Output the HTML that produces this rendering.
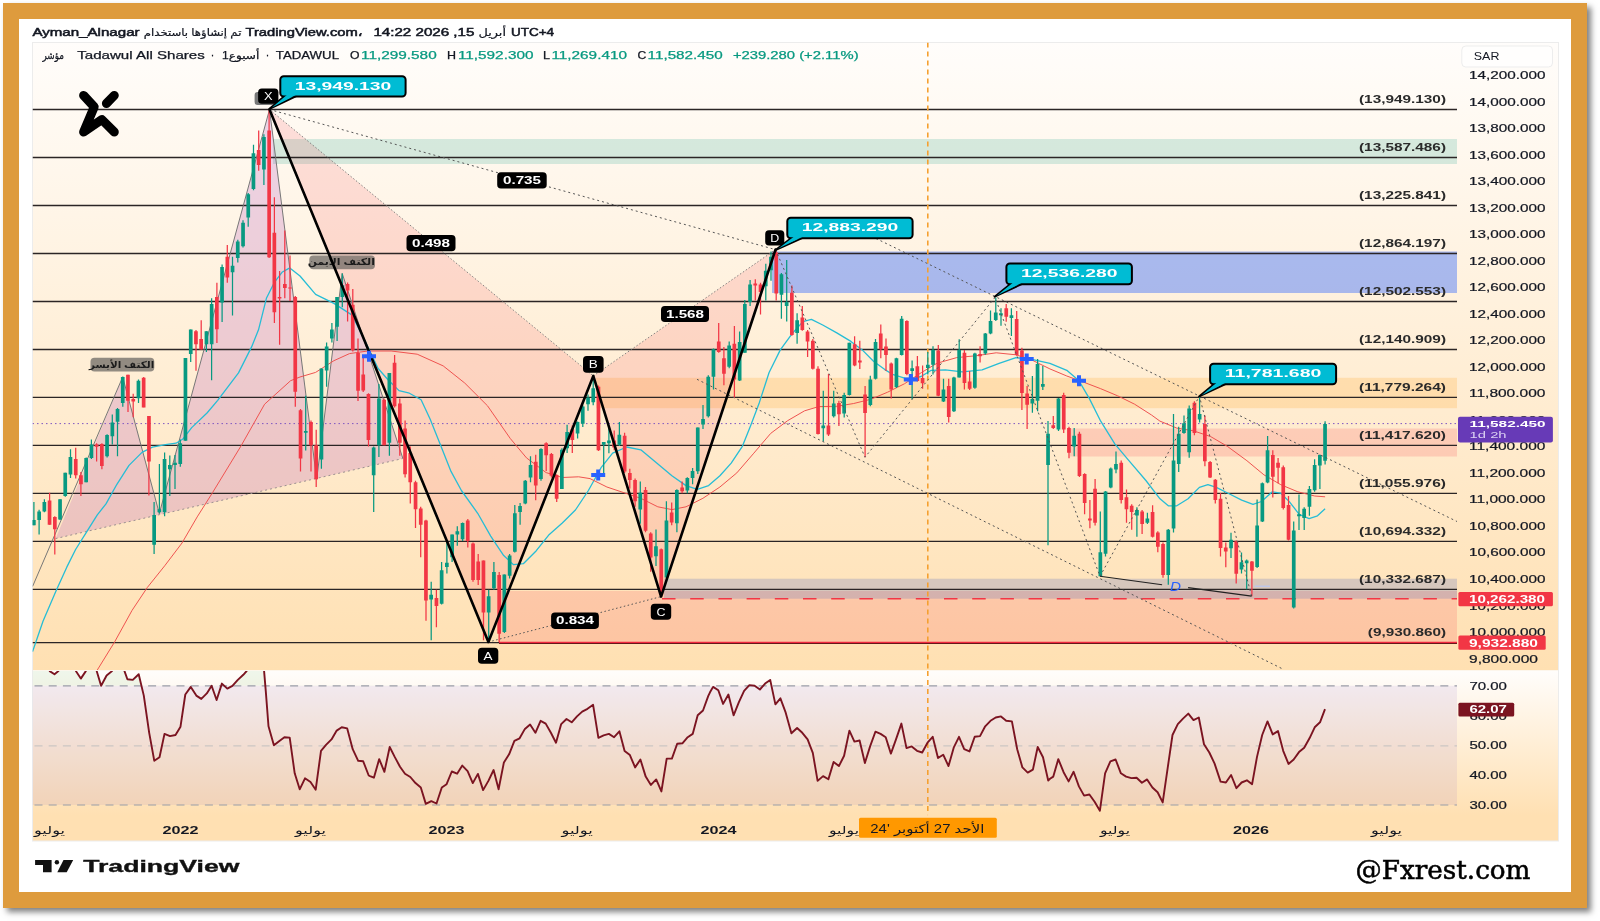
<!DOCTYPE html>
<html lang="en"><head><meta charset="utf-8"><title>Tadawul All Shares chart</title>
<style>
html,body{margin:0;padding:0;background:#fff}
body{width:1600px;height:921px;position:relative;overflow:hidden}
#frame{position:absolute;left:3px;top:3px;width:1551.85px;height:872.85px;border-style:solid;border-color:#DE9B3D;border-width:16.4px 16.25px 16.25px 16.4px;background:#fff;box-shadow:4px 4px 6px rgba(0,0,0,.5)}
</style></head><body>
<div id="frame"></div>
<svg width="1600" height="921" viewBox="0 0 1600 921" style="position:absolute;left:0;top:0;will-change:transform" font-family='"Liberation Sans", "DejaVu Sans", sans-serif'>
<defs>
<linearGradient id="gm" x1="0" y1="0" x2="0" y2="1"><stop offset="0" stop-color="#FFFDFB"/><stop offset="1" stop-color="#FFE0B2"/></linearGradient>
<linearGradient id="gr" x1="0" y1="0" x2="0" y2="1"><stop offset="0" stop-color="#FFFDFB"/><stop offset="1" stop-color="#FFE0B2"/></linearGradient>
<clipPath id="cm"><rect x="32.5" y="42.5" width="1424.5" height="627.5"/></clipPath>
<clipPath id="cr"><rect x="32.5" y="671" width="1424.5" height="144"/></clipPath>
<clipPath id="c70"><rect x="32.5" y="671" width="1424.5" height="14.8"/></clipPath>
</defs>
<rect x="32.5" y="42.5" width="1526" height="627.5" fill="url(#gm)"/>
<rect x="32.5" y="671" width="1526" height="144" fill="url(#gr)"/>
<rect x="32.5" y="815" width="1526" height="26" fill="#FFE0B2"/>
<rect x="32.5" y="670" width="1526" height="1" fill="#FDF6EC"/>
<rect x="32.5" y="42.5" width="1526" height="798.5" fill="none" stroke="#ECECEC" stroke-width="1"/>
<g clip-path="url(#cm)">
<rect x="273" y="139" width="1184" height="25" fill="#089981" fill-opacity="0.17"/>
<rect x="772" y="251.5" width="685" height="41.5" fill="#2962FF" fill-opacity="0.4"/>
<rect x="596" y="377.8" width="861" height="30.4" fill="#FF9800" fill-opacity="0.18"/>
<rect x="1070" y="428.5" width="387" height="28" fill="#F23645" fill-opacity="0.17"/>
<rect x="498" y="591" width="959" height="51.6" fill="#F23645" fill-opacity="0.16"/>
<rect x="664" y="578.7" width="793" height="20" fill="#5B6FC0" fill-opacity="0.25"/>
<polygon points="55.6,538.6 122.7,377 159.3,513.5 269.5,109.5 316.7,479.3 342.2,273.4 402.9,458.5" fill="#9C27B0" fill-opacity="0.18"/>
<polygon points="269.5,109.5 488.4,642 593.3,375.9" fill="#F23645" fill-opacity="0.14"/>
<polygon points="593.3,375.9 661.1,596.6 775.5,249.6" fill="#F23645" fill-opacity="0.14"/>
<line x1="32.5" y1="109.5" x2="1457" y2="109.5" stroke="#2B2525" stroke-width="1.3"/>
<line x1="32.5" y1="157.5" x2="1457" y2="157.5" stroke="#2B2525" stroke-width="1.3"/>
<line x1="32.5" y1="205.5" x2="1457" y2="205.5" stroke="#2B2525" stroke-width="1.3"/>
<line x1="32.5" y1="253.5" x2="1457" y2="253.5" stroke="#2B2525" stroke-width="1.3"/>
<line x1="32.5" y1="301.5" x2="1457" y2="301.5" stroke="#2B2525" stroke-width="1.3"/>
<line x1="32.5" y1="349.5" x2="1457" y2="349.5" stroke="#2B2525" stroke-width="1.3"/>
<line x1="32.5" y1="397.4" x2="1457" y2="397.4" stroke="#2B2525" stroke-width="1.3"/>
<line x1="32.5" y1="445.4" x2="1457" y2="445.4" stroke="#2B2525" stroke-width="1.3"/>
<line x1="32.5" y1="493.4" x2="1457" y2="493.4" stroke="#2B2525" stroke-width="1.3"/>
<line x1="32.5" y1="541.4" x2="1457" y2="541.4" stroke="#2B2525" stroke-width="1.3"/>
<line x1="32.5" y1="589.4" x2="1457" y2="589.4" stroke="#2B2525" stroke-width="1.3"/>
<line x1="32.5" y1="642.7" x2="1457" y2="642.7" stroke="#2B2525" stroke-width="1.3"/>
<line x1="499" y1="643.5" x2="1457" y2="643.5" stroke="#3a1010" stroke-width="1"/>
<line x1="499" y1="642.5" x2="1457" y2="642.5" stroke="#F0283E" stroke-width="1.5"/>
<line x1="662" y1="598.8" x2="1457" y2="598.8" stroke="#F23645" stroke-width="1.5" stroke-dasharray="13.5,14.7"/>
<line x1="32.5" y1="423.6" x2="1457" y2="423.6" stroke="#7E57C2" stroke-width="1" stroke-dasharray="1.5,3"/>
<line x1="927.8" y1="42.5" x2="927.8" y2="670" stroke="#F5A030" stroke-width="1.6" stroke-dasharray="5,4"/>
<polyline points="32.6,586.4 122.7,377 159.3,513.5 269.5,109.5 316.7,479.3 342.2,273.4 402.9,458.5" fill="none" stroke="#777" stroke-width="1" stroke-linejoin="round"/>
<line x1="55.6" y1="538.6" x2="402.9" y2="458.5" stroke="#9A8F8F" stroke-width="1" stroke-dasharray="2,3"/>
<polyline points="32.6,651.6 43,621.2 56.1,590.8 66.9,566.9 75.6,549.5 86.5,532.1 97.3,514.8 106,503.9 116.9,484.3 129,465.4 142,452.4 152.4,447.2 165.4,444.6 176,443.2 182.6,439.3 191.7,427.6 207,413 217.7,400.3 238.5,372.9 251.6,346.9 258.5,329.8 266.4,298.3 274.2,282.7 282,272.3 289.8,267.9 300,276 315.6,294.3 333.9,303.4 352.1,315.1 365.1,341.1 378.1,368.5 388.5,380.2 399,390.6 409.4,393.2 421.1,399.7 430.2,419.3 440.6,445.3 451,471.4 461.4,490.5 477.7,513.3 490.7,536.1 503.7,555.6 513.5,564.7 523.3,563.7 536.3,550.7 549.3,534.4 562.3,523 575.4,510 588.4,490.5 601.3,467.3 612.6,453.2 626.7,447 640.8,449.8 654.9,461.6 671.9,475.8 686,485.6 697.3,489.3 708.6,485.6 719.9,475.8 731.2,463.1 742.5,446.1 750.9,424.9 759.4,402.4 769.1,372.5 780.3,349.9 791.6,334.3 802.9,321.6 811.4,319.4 822.7,325 836.8,332.9 850.9,341.4 862.2,349.9 873.5,361.2 884.8,369.6 893.3,374.7 904.6,378.1 913,378.7 921,376.5 931.3,370.3 945.4,369.8 962.3,371.8 982.1,369.8 999.1,363.3 1016,357.6 1032.9,359.6 1049.9,363.3 1066.8,370.3 1079,380.8 1089.4,398.6 1100.7,421.2 1114.8,443.8 1128.9,460.7 1145.9,480.5 1160,498.8 1168.3,505.8 1176.8,505.8 1188.1,498.7 1199.4,487.4 1207.9,484.6 1216.3,487.4 1227.6,493 1241.7,500.1 1253,504.3 1261.5,501.5 1272.3,491.8 1280.8,493.2 1289.3,501.6 1299.2,514.3 1309.1,518.6 1317.5,515.8 1325.1,508.7" fill="none" stroke="#26BDD6" stroke-width="1.3" stroke-linejoin="round"/>
<polyline points="97.3,670 114.7,641.8 132.1,610.3 147.3,587.5 164.7,565.8 182,543 197.2,516.9 212.5,492.7 241.1,445.8 264.6,404.2 290.6,380.7 300,377 315.6,372.4 333.9,360.7 349.5,353.6 367.7,351 391.1,351 417.2,354.2 443.2,365.9 464.7,383 487.5,405.8 510.2,438.4 526.5,457.9 546.1,472.6 562.3,477.5 578.6,476.8 590,478.6 606.9,487 623.9,492.7 640.8,498.3 657.8,506.8 671.9,509.6 686,506.8 702.9,498.3 719.9,487 736.8,472.9 753.8,453.2 770.7,433.4 787.6,420.7 804.6,410.8 818.7,406.6 836.8,406.3 853.7,403.5 870.7,399.3 887.6,392.2 904.6,383.7 921.5,372.5 936.9,363.3 956.7,357.6 976.5,355.7 996.2,352.8 1016,354.8 1032.9,360.5 1049.9,368.9 1066.8,376 1083.7,382.2 1100.7,388.7 1117.6,395.8 1134.6,404.2 1151.5,415 1159.9,421.1 1176.8,428.1 1193.7,430.9 1210.7,436.6 1227.6,446.5 1246.9,460.7 1263.9,474.8 1280.8,484.7 1297.8,491.8 1314.7,496 1325.1,496.8" fill="none" stroke="#EF5350" stroke-width="1" stroke-linejoin="round"/>
<path d="M33.9,501.9V525.3M39.1,509.7V534.4M44.4,499.3V512.3M60,499.3V520.1M65.3,472.7V496.7M70.5,449.3V477.9M86.2,457.6V482.3M91.4,439.4V458.9M107.1,434.2V457.6M112.3,414.6V444.6M117.5,408.1V456.3M122.8,376.4V406.8M138.5,379.5V402.9M154.1,501.9V554M159.4,464.1V513.6M164.6,452.4V516.2M169.8,455.5V496.1M175,455V488.9M180.3,439.4V466.7M185.5,358.1V440.7M190.7,329.4V362M206.4,331.2V352.1M211.6,298.3V380.2M222.1,264.5V322M232.5,256.7V315.4M237.8,239.7V262.4M243,220.2V247.6M248.2,192.9V226.7M253.5,144.7V190.3M263.9,134.3V185M305.7,395.8V450.5M321.4,368.5V468.8M326.6,342.4V386.7M331.9,322.9V342.4M337.1,296.9V341.1M342.3,273.4V307.3M373.7,446.6V512M378.9,384.1V457M389.4,372.9V455.7M431.2,581.7V640.3M441.6,562.1V604.5M446.9,541V573.5M452.1,534.4V562.1M457.3,526.3V545.8M462.6,522.4V541M488.7,589.8V641.9M493.9,562.1V589.8M504.4,574.5V633.1M509.6,554V578.4M514.8,505.1V552.4M520.1,502.9V524.7M525.3,480.1V504.2M530.5,456.3V482.3M541,448.2V480.7M561.9,448.2V488.9M567.1,424.7V453M577.6,421.4V438.4M582.8,405.2V427M588,394.4V410.7M593.2,379.8V405.2M603.7,441.9V474.3M608.9,427.8V453.2M619.4,422.1V446.1M640.3,481.4V523.7M656,529.4V566.1M666.4,501.2V578.8M676.9,489.3V532.2M687.3,477.2V493.3M692.6,468.1V484.2M697.8,427.5V474.1M703,404.9V428.9M708.3,375.3V417.6M713.5,348.5V389.4M729.2,341.4V368.2M739.6,331.5V380.9M744.8,299.9V352.7M750.1,279.9V306.1M765.8,263.8V300.5M771,251.6V280.7M781.4,273.1V318.8M786.7,260.1V321.6M797.1,313.2V343.7M823.3,390.8V441.6M833.7,390.8V417.6M844.2,392.8V417.6M849.4,342.8V395.6M870.3,375.8V406.3M875.5,339.1V379.5M896.4,357.8V388M901.7,316V355.5M912.1,360.6V399.3M927.8,352V374.6M933,346.3V374.6M943.5,378.8V402M953.9,376.8V412.1M959.2,339.3V377.4M974.9,352.8V388.7M985.3,333.1V354.8M990.5,310.5V334.2M995.8,297.5V320.9M1001,308.2V325.7M1011.4,308.2V335.9M1032.4,376V412.7M1037.6,359.1V411.3M1042.8,366.1V390.1M1048,421.1V545.3M1058.5,397.9V430.9M1074.2,428.1V456.3M1100.3,511.4V576.3M1105.5,491.1V556.6M1110.8,467.6V488.2M1116,451.5V473.3M1136.9,507.2V536.8M1147.4,512.8V524.1M1168.3,528.9V584.8M1173.5,414V532.6M1178.7,426.7V471.9M1184,415.4V433.8M1189.2,405.5V457.8M1199.6,397.1V422.5M1231,532.7V558.1M1241.5,552.5V573.6M1246.7,559.5V589.2M1257.1,499.4V568M1262.4,482.4V522M1267.6,436.1V483.3M1293.7,521.4V608.4M1299,494.6V529.9M1304.2,507.3V529.9M1309.4,486.1V515.8M1314.6,459.3V491.8M1319.9,454.5V488.9M1325.1,421.2V464.4" stroke="#089981" stroke-width="1.25" fill="none"/>
<path d="M49.6,492.8V524.8M54.8,516.2V554.5M75.7,447.7V478.4M80.9,471.9V496.1M96.6,443.3V461.5M101.9,443.3V469.3M128,374.8V412M133.2,393.8V417.2M143.7,376.9V407.3M148.9,415.9V495.4M196,329.9V370.8M201.2,320.3V349.5M216.9,282.7V343M227.3,245V282.7M258.7,130.4V170.7M269.1,109.5V258M274.4,197.3V323M279.6,271V344.8M284.8,230.6V298.3M290,255.4V301M295.3,296V406.8M300.5,408.9V471.4M311,420.6V471.4M316.2,429.7V487M347.6,282.6V321.6M352.8,289.1V351.6M358,338.5V401M363.2,355.5V391.9M368.5,393.2V446.6M384.1,398.4V445.3M394.6,354.9V407.6M399.8,398.4V455.7M405.1,420.5V477.5M410.3,446.5V503.5M415.5,480.7V527.9M420.7,506.8V557.2M426,519.8V620.7M436.4,589.8V627.2M467.8,519.1V547.5M473,542.6V581.7M478.2,554V584.9M483.5,560.5V640.3M499.2,571.9V641.9M535.7,454.7V500.3M546.2,442.3V470.9M551.4,453V477.5M556.7,474.2V501.9M572.3,425.4V453M598.5,385.4V450.9M614.2,430.6V450.3M624.6,432.8V472.9M629.8,468.7V488.5M635.1,478.6V506.8M645.5,487V532.2M650.7,532.2V571.7M661.2,548.6V595.7M671.7,502.6V525.2M682.1,481.4V493.3M718.7,323V352.7M723.9,347V385.2M734.4,325.9V397.9M755.3,279.3V300.5M760.5,282.7V314.6M776.2,249.6V300.5M791.9,285.5V335.8M802.3,306.1V330.7M807.6,330.1V356.9M812.8,339.1V369.6M818,366.2V434.6M828.5,373.9V436M838.9,400.7V426.1M854.6,336.3V366.2M859.8,340.8V369.1M865.1,386V457.2M880.8,324.5V358.3M886,338.6V371M891.2,362.6V398.4M906.9,320.2V375.3M917.4,356.1V381.5M922.6,365.4V388.8M938.3,344.9V396.3M948.7,378.8V422.6M964.4,350V389.5M969.6,370.9V390.1M980.1,346.3V362.4M1006.2,304V321.8M1016.7,311.1V355.7M1021.9,347.8V409.9M1027.1,385.9V429.1M1053.3,416V429M1063.7,392.8V432.9M1069,426.7V458.3M1079.4,431.8V477M1084.6,473.3V514.2M1089.9,500.1V528.3M1095.1,478.9V525.5M1121.2,460.6V503.5M1126.5,489.4V522.7M1131.7,504.3V529.8M1142.1,510V534M1152.6,505.2V537.4M1157.8,531.2V552.3M1163,542.5V577.7M1194.4,401.3V435.2M1204.9,415.4V466.2M1210.1,461.1V478.1M1215.3,478.9V503.5M1220.5,493V556.6M1225.8,542.5V567.3M1236.2,540.6V583.5M1251.9,560.9V596.2M1272.8,450.3V497.4M1278.1,457.9V483.3M1283.3,465.5V509.5M1288.5,496V540.6" stroke="#F23645" stroke-width="1.25" fill="none"/>
<path d="M32,520.1h3.7v5.2h-3.7zM37.3,511.5h3.7v8.6h-3.7zM42.5,501.9h3.7v9.6h-3.7zM58.2,499.3h3.7v20.3h-3.7zM63.4,472.7h3.7v23.4h-3.7zM68.6,457.1h3.7v17.4h-3.7zM84.3,458.1h3.7v24.2h-3.7zM89.6,444.6h3.7v13.5h-3.7zM105.2,434.9h3.7v21.4h-3.7zM110.5,422.4h3.7v13.8h-3.7zM115.7,408.9h3.7v12.8h-3.7zM120.9,376.9h3.7v26h-3.7zM136.6,380.8h3.7v17.4h-3.7zM152.3,514.9h3.7v29.9h-3.7zM157.5,509.2h3.7v3.1h-3.7zM162.7,458.9h3.7v53.4h-3.7zM168,464.9h3.7v4.4h-3.7zM173.2,462.8h3.7v2.1h-3.7zM178.4,443.3h3.7v20.8h-3.7zM183.6,358.1h3.7v82.6h-3.7zM188.9,329.4h3.7v24.7h-3.7zM204.6,331.2h3.7v13h-3.7zM209.8,303.9h3.7v40.4h-3.7zM220.2,267.1h3.7v35.3h-3.7zM230.7,265.8h3.7v6.5h-3.7zM235.9,241.6h3.7v16.4h-3.7zM241.2,222.8h3.7v23.4h-3.7zM246.4,194.2h3.7v23.4h-3.7zM251.6,153.3h3.7v35.7h-3.7zM262.1,136.9h3.7v32.5h-3.7zM303.9,431h3.7v1.8h-3.7zM319.6,368.5h3.7v91.1h-3.7zM324.8,346.4h3.7v24h-3.7zM330,329.4h3.7v9.1h-3.7zM335.2,296.9h3.7v29.9h-3.7zM340.5,285.2h3.7v11.7h-3.7zM371.8,447.4h3.7v27.9h-3.7zM377.1,398.4h3.7v46.9h-3.7zM387.5,372.9h3.7v69.8h-3.7zM429.3,594.7h3.7v4.9h-3.7zM439.8,570.3h3.7v33.5h-3.7zM445,562.8h3.7v4.2h-3.7zM450.3,534.4h3.7v22.8h-3.7zM455.5,531.2h3.7v3.3h-3.7zM460.7,523h3.7v16.3h-3.7zM486.8,596.3h3.7v16.3h-3.7zM492.1,571.9h3.7v16.3h-3.7zM502.5,574.5h3.7v57.6h-3.7zM507.8,555.6h3.7v20.2h-3.7zM513,513.3h3.7v38.4h-3.7zM518.2,506.1h3.7v5.9h-3.7zM523.4,480.7h3.7v22.8h-3.7zM528.7,465.1h3.7v12.4h-3.7zM539.1,449.1h3.7v30h-3.7zM560,449.8h3.7v39.1h-3.7zM565.3,431.9h3.7v16.3h-3.7zM575.7,422.1h3.7v11.4h-3.7zM580.9,406.5h3.7v17.3h-3.7zM586.2,397.7h3.7v6.5h-3.7zM591.4,388.2h3.7v14.1h-3.7zM601.9,441.9h3.7v2.8h-3.7zM607.1,440.5h3.7v2.8h-3.7zM617.5,434.8h3.7v9.9h-3.7zM638.4,492.7h3.7v16.9h-3.7zM654.1,546.3h3.7v9.9h-3.7zM664.6,520.4h3.7v57h-3.7zM675,489.9h3.7v33.3h-3.7zM685.5,478h3.7v12.4h-3.7zM690.7,471h3.7v7.1h-3.7zM695.9,427.5h3.7v43.8h-3.7zM701.2,419h3.7v5.6h-3.7zM706.4,376.7h3.7v39.5h-3.7zM711.6,349.3h3.7v27.4h-3.7zM727.3,345.6h3.7v21.2h-3.7zM737.8,342h3.7v38.4h-3.7zM743,304.1h3.7v48.6h-3.7zM748.2,284.4h3.7v17.5h-3.7zM763.9,270.8h3.7v15.5h-3.7zM769.1,256.7h3.7v13.6h-3.7zM779.6,274.2h3.7v20.6h-3.7zM784.8,301.9h3.7v4.2h-3.7zM795.3,320.2h3.7v12.7h-3.7zM821.4,425.5h3.7v2.8h-3.7zM831.9,403.5h3.7v12.7h-3.7zM842.3,395h3.7v18.4h-3.7zM847.5,342.8h3.7v52.2h-3.7zM868.5,379.5h3.7v25.4h-3.7zM873.7,342h3.7v36.7h-3.7zM894.6,358.3h3.7v28.8h-3.7zM899.8,318.8h3.7v36.1h-3.7zM910.3,368.2h3.7v2.8h-3.7zM926,364.7h3.7v3.4h-3.7zM931.2,350h3.7v14.7h-3.7zM941.6,389.5h3.7v11.9h-3.7zM952.1,377.4h3.7v33.9h-3.7zM957.3,350h3.7v27.4h-3.7zM973,353.4h3.7v34.4h-3.7zM983.5,333.6h3.7v19.8h-3.7zM988.7,320.9h3.7v12.7h-3.7zM993.9,312.5h3.7v7.6h-3.7zM999.1,313.3h3.7v2h-3.7zM1009.6,315.3h3.7v2.8h-3.7zM1030.5,399.1h3.7v4.5h-3.7zM1035.7,364.1h3.7v36.7h-3.7zM1041,383.9h3.7v2.8h-3.7zM1046.2,433.8h3.7v31.1h-3.7zM1056.6,398.5h3.7v31.1h-3.7zM1072.3,435.7h3.7v10.7h-3.7zM1098.5,552.3h3.7v24h-3.7zM1103.7,491.6h3.7v62.1h-3.7zM1108.9,468.5h3.7v18.9h-3.7zM1114.1,464h3.7v5.6h-3.7zM1135.1,510h3.7v5.6h-3.7zM1145.5,518.5h3.7v4.2h-3.7zM1166.4,529.8h3.7v45.2h-3.7zM1171.7,460.6h3.7v67.8h-3.7zM1176.9,433.8h3.7v30.2h-3.7zM1182.1,423.3h3.7v9.6h-3.7zM1187.3,408.4h3.7v43.8h-3.7zM1197.8,414h3.7v5.6h-3.7zM1229.2,539.8h3.7v8.5h-3.7zM1239.6,562.3h3.7v7.1h-3.7zM1244.8,560.4h3.7v2.8h-3.7zM1255.3,525.6h3.7v41.5h-3.7zM1260.5,483.3h3.7v38.1h-3.7zM1265.7,450.3h3.7v32.2h-3.7zM1291.9,530.4h3.7v77.1h-3.7zM1297.1,514.3h3.7v2h-3.7zM1302.3,508.7h3.7v9.3h-3.7zM1307.6,488.9h3.7v17.8h-3.7zM1312.8,464.9h3.7v25.4h-3.7zM1318,455.1h3.7v10.4h-3.7zM1323.2,424h3.7v36.7h-3.7z" fill="#089981"/>
<path d="M47.7,500.6h3.7v24.2h-3.7zM53,517h3.7v12.2h-3.7zM73.9,458.9h3.7v16.4h-3.7zM79.1,475.3h3.7v8.9h-3.7zM94.8,444.6h3.7v2.1h-3.7zM100,444.1h3.7v21.9h-3.7zM126.1,374.8h3.7v26h-3.7zM131.4,399h3.7v2.6h-3.7zM141.8,377.7h3.7v29.7h-3.7zM147.1,415.9h3.7v45.6h-3.7zM194.1,331.2h3.7v13h-3.7zM199.3,339.1h3.7v10.4h-3.7zM215,297h3.7v32.2h-3.7zM225.5,256.7h3.7v20.8h-3.7zM256.8,149.9h3.7v15.1h-3.7zM267.3,130.4h3.7v126.8h-3.7zM272.5,232.7h3.7v79.5h-3.7zM277.7,297h3.7v1.5h-3.7zM283,284h3.7v3.9h-3.7zM288.2,287.4h3.7v1.2h-3.7zM293.4,297h3.7v94.7h-3.7zM298.7,410.2h3.7v48.2h-3.7zM309.1,421.9h3.7v23.4h-3.7zM314.3,445.3h3.7v33.9h-3.7zM345.7,283.9h3.7v6.5h-3.7zM350.9,304.7h3.7v45.6h-3.7zM356.2,352.9h3.7v37.8h-3.7zM361.4,374.5h3.7v16.1h-3.7zM366.6,394h3.7v46.1h-3.7zM382.3,399.7h3.7v45.6h-3.7zM392.7,362.8h3.7v43.5h-3.7zM398,403.6h3.7v39.1h-3.7zM403.2,428.6h3.7v45.6h-3.7zM408.4,453h3.7v29.3h-3.7zM413.7,482.3h3.7v27h-3.7zM418.9,508.4h3.7v16.3h-3.7zM424.1,520.4h3.7v80.1h-3.7zM434.6,597.9h3.7v8.1h-3.7zM465.9,520.4h3.7v20.5h-3.7zM471.2,543.6h3.7v36.5h-3.7zM476.4,561.5h3.7v18.6h-3.7zM481.6,560.5h3.7v52.1h-3.7zM497.3,575.1h3.7v58.6h-3.7zM533.9,461.8h3.7v23.8h-3.7zM544.3,443.3h3.7v12h-3.7zM549.6,454h3.7v21.8h-3.7zM554.8,474.9h3.7v23.8h-3.7zM570.5,429.3h3.7v10.7h-3.7zM596.6,386.8h3.7v63.5h-3.7zM612.3,440.5h3.7v7.1h-3.7zM622.8,435.7h3.7v35.9h-3.7zM628,472.9h3.7v7.1h-3.7zM633.2,480h3.7v21.2h-3.7zM643.7,489.9h3.7v40.9h-3.7zM648.9,533.6h3.7v24h-3.7zM659.4,549.2h3.7v45.2h-3.7zM669.8,512.5h3.7v9.9h-3.7zM680.3,487.6h3.7v3.7h-3.7zM716.9,341.4h3.7v10.7h-3.7zM722.1,358.3h3.7v15.5h-3.7zM732.5,343.7h3.7v35.9h-3.7zM753.4,283.5h3.7v2h-3.7zM758.7,284.4h3.7v7.6h-3.7zM774.4,252.5h3.7v40.9h-3.7zM790,292.8h3.7v42.3h-3.7zM800.5,317.4h3.7v12.7h-3.7zM805.7,331.5h3.7v9.9h-3.7zM811,340.8h3.7v28h-3.7zM816.2,368.8h3.7v65.2h-3.7zM826.6,425.5h3.7v9h-3.7zM837.1,402.9h3.7v11.3h-3.7zM852.8,344.2h3.7v21.2h-3.7zM858,360.6h3.7v2h-3.7zM863.2,394.5h3.7v18.4h-3.7zM878.9,333.5h3.7v15.8h-3.7zM884.1,346.5h3.7v8.5h-3.7zM889.4,363.4h3.7v26h-3.7zM905,321.1h3.7v52.8h-3.7zM915.5,366.2h3.7v14.7h-3.7zM920.7,378.1h3.7v5.1h-3.7zM936.4,350.6h3.7v45.2h-3.7zM946.9,385.9h3.7v31.1h-3.7zM962.6,352.8h3.7v30.2h-3.7zM967.8,381.6h3.7v7.1h-3.7zM978.2,354h3.7v2.3h-3.7zM1004.4,308.2h3.7v8.5h-3.7zM1014.8,319h3.7v35.9h-3.7zM1020.1,350.6h3.7v42.3h-3.7zM1025.3,393.5h3.7v11.3h-3.7zM1051.4,425.3h3.7v2.8h-3.7zM1061.9,395.1h3.7v34.4h-3.7zM1067.1,428.1h3.7v24.6h-3.7zM1077.6,433.8h3.7v42.3h-3.7zM1082.8,474.1h3.7v28.8h-3.7zM1088,518.5h3.7v2h-3.7zM1093.2,488.8h3.7v33.9h-3.7zM1119.4,462.8h3.7v37.3h-3.7zM1124.6,497.3h3.7v11.9h-3.7zM1129.8,505.8h3.7v6.2h-3.7zM1140.3,511.4h3.7v12.7h-3.7zM1150.7,512h3.7v24.8h-3.7zM1156,532.6h3.7v14.1h-3.7zM1161.2,543.9h3.7v31.1h-3.7zM1192.6,402.7h3.7v30.2h-3.7zM1203,423.9h3.7v37.3h-3.7zM1208.2,462h3.7v15.5h-3.7zM1213.5,479.8h3.7v20.3h-3.7zM1218.7,498.7h3.7v49.4h-3.7zM1223.9,547.5h3.7v4h-3.7zM1234.4,541.2h3.7v32.5h-3.7zM1250.1,561.5h3.7v9.3h-3.7zM1271,455.1h3.7v21.7h-3.7zM1276.2,462.7h3.7v5.1h-3.7zM1281.4,467.2h3.7v40.7h-3.7zM1286.7,505h3.7v34.7h-3.7z" fill="#F23645"/>
<line x1="269.5" y1="109.5" x2="593.3" y2="375.9" stroke="#777" stroke-width="0.9" stroke-dasharray="1.5,2"/>
<line x1="269.5" y1="109.5" x2="775.5" y2="249.6" stroke="#555" stroke-width="1" stroke-dasharray="2,3"/>
<line x1="488.4" y1="642" x2="661.1" y2="596.6" stroke="#555" stroke-width="1" stroke-dasharray="1.5,2.5"/>
<line x1="593.3" y1="375.9" x2="775.5" y2="249.6" stroke="#777" stroke-width="0.9" stroke-dasharray="1.5,2"/>
<line x1="876" y1="238.5" x2="1457" y2="521.5" stroke="#555" stroke-width="1" stroke-dasharray="2,3"/>
<line x1="697" y1="379.3" x2="1284" y2="669.6" stroke="#555" stroke-width="1" stroke-dasharray="2,3"/>
<polyline points="775.5,249.6 865,457.2 995,297.5 1100,576.3 1199.4,396.2 1251.6,596.1" fill="none" stroke="#555" stroke-width="1" stroke-dasharray="2,3"/>
<line x1="1100" y1="576.3" x2="1162.1" y2="584.8" stroke="#222" stroke-width="1.1"/>
<line x1="1188.1" y1="587.6" x2="1251.6" y2="596.1" stroke="#222" stroke-width="1.1"/>
<line x1="1254.5" y1="586.2" x2="1270" y2="586.2" stroke="#B9C6F2" stroke-width="1.2"/>
<text x="1175.4" y="591" font-size="12" font-style="italic" fill="#2962FF" text-anchor="middle" textLength="11" lengthAdjust="spacingAndGlyphs">D</text>
<rect x="90.5" y="357.7" width="63.8" height="13.9" rx="4" fill="#6E6A64" fill-opacity="0.75"/>
<text x="121.6" y="367.7" font-size="9.6" font-weight="bold" text-anchor="middle" textLength="65.3" lengthAdjust="spacingAndGlyphs" fill="#1c1c1c" direction="rtl" unicode-bidi="embed">الكتف الأيسر</text>
<rect x="309.3" y="255.4" width="65.7" height="13.8" rx="4" fill="#6E6A64" fill-opacity="0.75"/>
<text x="341.3" y="265.3" font-size="9.6" font-weight="bold" text-anchor="middle" textLength="67.2" lengthAdjust="spacingAndGlyphs" fill="#1c1c1c" direction="rtl" unicode-bidi="embed">الكتف الأيمن</text>
<polyline points="269.5,109.5 488.4,642 593.3,375.9 661.1,596.6 775.5,249.6" fill="none" stroke="#000" stroke-width="2.6" stroke-linejoin="round" stroke-linecap="round"/>
<path d="M362,356.3h14M369,350.8v11" stroke="#2962FF" stroke-width="4" fill="none"/>
<path d="M591.2,474.9h14M598.2,469.4v11" stroke="#2962FF" stroke-width="4" fill="none"/>
<path d="M903.8,379.5h14M910.8,374v11" stroke="#2962FF" stroke-width="4" fill="none"/>
<path d="M1019.7,359h14M1026.7,353.5v11" stroke="#2962FF" stroke-width="4" fill="none"/>
<path d="M1072,380.8h14M1079,375.3v11" stroke="#2962FF" stroke-width="4" fill="none"/>
<rect x="497.2" y="172.3" width="49.5" height="16.2" rx="3.8" fill="#000"/>
<text x="522" y="184" font-size="10" font-weight="bold" text-anchor="middle" textLength="38" lengthAdjust="spacingAndGlyphs" fill="#fff" >0.735</text>
<rect x="406.5" y="235" width="49" height="16.2" rx="3.8" fill="#000"/>
<text x="431" y="246.7" font-size="10" font-weight="bold" text-anchor="middle" textLength="38" lengthAdjust="spacingAndGlyphs" fill="#fff" >0.498</text>
<rect x="661" y="306" width="48" height="16" rx="3.8" fill="#000"/>
<text x="685" y="317.6" font-size="10" font-weight="bold" text-anchor="middle" textLength="38" lengthAdjust="spacingAndGlyphs" fill="#fff" >1.568</text>
<rect x="551.1" y="612.6" width="47.8" height="16.3" rx="3.8" fill="#000"/>
<text x="575" y="624.3" font-size="10" font-weight="bold" text-anchor="middle" textLength="38" lengthAdjust="spacingAndGlyphs" fill="#fff" >0.834</text>
<rect x="254.6" y="92" width="20" height="13" rx="3" fill="#777"/>
<rect x="258.1" y="88.5" width="20.3" height="15.2" rx="3.8" fill="#000"/>
<text x="268.2" y="99.9" font-size="10.5" text-anchor="middle" textLength="8.6" lengthAdjust="spacingAndGlyphs" fill="#fff" >X</text>
<rect x="478" y="647.7" width="20.3" height="16" rx="3.8" fill="#000"/>
<text x="488.1" y="659.5" font-size="10.5" text-anchor="middle" textLength="9" lengthAdjust="spacingAndGlyphs" fill="#fff" >A</text>
<rect x="583" y="355.9" width="20.6" height="16.8" rx="3.8" fill="#000"/>
<text x="593.3" y="368.1" font-size="10.5" text-anchor="middle" textLength="9" lengthAdjust="spacingAndGlyphs" fill="#fff" >B</text>
<rect x="650.8" y="603.7" width="20.4" height="16" rx="3.8" fill="#000"/>
<text x="661" y="615.5" font-size="10.5" text-anchor="middle" textLength="9" lengthAdjust="spacingAndGlyphs" fill="#fff" >C</text>
<rect x="765.2" y="230.3" width="19.1" height="15.2" rx="3.8" fill="#000"/>
<text x="774.7" y="241.7" font-size="10.5" text-anchor="middle" textLength="9" lengthAdjust="spacingAndGlyphs" fill="#fff" >D</text>
<path d="M285.3,95.6 L269.5,108.8 L297.3,95.6 Z" fill="#00BCD4" stroke="#000" stroke-width="2" stroke-linejoin="round"/>
<rect x="280.3" y="76.2" width="125.3" height="20.4" rx="3.5" fill="#00BCD4" stroke="#000" stroke-width="2"/>
<path d="M286.8,95.1 L272,107.6 L295.8,95.1 Z" fill="#00BCD4"/>
<text x="343" y="89.8" font-size="11" font-weight="bold" text-anchor="middle" textLength="96.5" lengthAdjust="spacingAndGlyphs" fill="#fff" >13,949.130</text>
<path d="M792.3,237.2 L775.9,249.8 L804.3,237.2 Z" fill="#00BCD4" stroke="#000" stroke-width="2" stroke-linejoin="round"/>
<rect x="787.3" y="217.8" width="125.3" height="20.4" rx="3.5" fill="#00BCD4" stroke="#000" stroke-width="2"/>
<path d="M793.8,236.7 L778.4,248.6 L802.8,236.7 Z" fill="#00BCD4"/>
<text x="850" y="231.4" font-size="11" font-weight="bold" text-anchor="middle" textLength="96.5" lengthAdjust="spacingAndGlyphs" fill="#fff" >12,883.290</text>
<path d="M1011.4,283.3 L994.6,296.7 L1023.4,283.3 Z" fill="#00BCD4" stroke="#000" stroke-width="2" stroke-linejoin="round"/>
<rect x="1006.4" y="263.5" width="125.5" height="20.8" rx="3.5" fill="#00BCD4" stroke="#000" stroke-width="2"/>
<path d="M1012.9,282.8 L997.1,295.5 L1021.9,282.8 Z" fill="#00BCD4"/>
<text x="1069.2" y="277.3" font-size="11" font-weight="bold" text-anchor="middle" textLength="96.5" lengthAdjust="spacingAndGlyphs" fill="#fff" >12,536.280</text>
<path d="M1215.1,383.3 L1199.1,396.4 L1227.1,383.3 Z" fill="#00BCD4" stroke="#000" stroke-width="2" stroke-linejoin="round"/>
<rect x="1210.1" y="363.7" width="126" height="20.6" rx="3.5" fill="#00BCD4" stroke="#000" stroke-width="2"/>
<path d="M1216.6,382.8 L1201.6,395.2 L1225.6,382.8 Z" fill="#00BCD4"/>
<text x="1273.1" y="377.4" font-size="11" font-weight="bold" text-anchor="middle" textLength="96.5" lengthAdjust="spacingAndGlyphs" fill="#fff" >11,781.680</text>
<text x="1446" y="102.6" font-size="10" font-weight="bold" text-anchor="end" textLength="87" lengthAdjust="spacingAndGlyphs" fill="#2a2a2a" >(13,949.130)</text>
<text x="1446" y="150.6" font-size="10" font-weight="bold" text-anchor="end" textLength="87" lengthAdjust="spacingAndGlyphs" fill="#2a2a2a" >(13,587.486)</text>
<text x="1446" y="198.6" font-size="10" font-weight="bold" text-anchor="end" textLength="87" lengthAdjust="spacingAndGlyphs" fill="#2a2a2a" >(13,225.841)</text>
<text x="1446" y="246.6" font-size="10" font-weight="bold" text-anchor="end" textLength="87" lengthAdjust="spacingAndGlyphs" fill="#2a2a2a" >(12,864.197)</text>
<text x="1446" y="294.6" font-size="10" font-weight="bold" text-anchor="end" textLength="87" lengthAdjust="spacingAndGlyphs" fill="#2a2a2a" >(12,502.553)</text>
<text x="1446" y="342.6" font-size="10" font-weight="bold" text-anchor="end" textLength="87" lengthAdjust="spacingAndGlyphs" fill="#2a2a2a" >(12,140.909)</text>
<text x="1446" y="390.5" font-size="10" font-weight="bold" text-anchor="end" textLength="87" lengthAdjust="spacingAndGlyphs" fill="#2a2a2a" >(11,779.264)</text>
<text x="1446" y="438.5" font-size="10" font-weight="bold" text-anchor="end" textLength="87" lengthAdjust="spacingAndGlyphs" fill="#2a2a2a" >(11,417.620)</text>
<text x="1446" y="486.5" font-size="10" font-weight="bold" text-anchor="end" textLength="87" lengthAdjust="spacingAndGlyphs" fill="#2a2a2a" >(11,055.976)</text>
<text x="1446" y="534.5" font-size="10" font-weight="bold" text-anchor="end" textLength="87" lengthAdjust="spacingAndGlyphs" fill="#2a2a2a" >(10,694.332)</text>
<text x="1446" y="582.5" font-size="10" font-weight="bold" text-anchor="end" textLength="87" lengthAdjust="spacingAndGlyphs" fill="#2a2a2a" >(10,332.687)</text>
<text x="1446" y="635.8" font-size="10" font-weight="bold" text-anchor="end" textLength="78.2" lengthAdjust="spacingAndGlyphs" fill="#2a2a2a" >(9,930.860)</text>
<path d="M83.6,95.4 L94.2,106.9 L83.6,132 L101.9,119.6 L114.3,132 M114.3,95.4 L106.4,103.5" fill="none" stroke="#000" stroke-width="9" stroke-linecap="round" stroke-linejoin="round"/>
</g>
<g clip-path="url(#cr)">
<rect x="32.5" y="685.8" width="1424.5" height="119.2" fill="#7E57C2" fill-opacity="0.1"/>
<polygon points="32.5,655 47.2,655 49.7,671.1 54.5,674.2 58.4,671.1 59.9,655 74.4,655 75.9,671.1 80.8,678.6 85.8,671.1 87.3,655 95.2,655 96.7,671.1 101.1,685.8 106.6,675.5 112,671.1 113.5,655 123,655 124.5,671.1 127.4,679.2 132.8,679.9 138.7,674.2 143.8,695.6 149.2,732.8 154.3,760.8 159.5,757.3 164.5,733.9 170,736.1 175.5,735 180.5,726.7 185.3,694.5 190.8,686.9 196.3,695.6 201.3,698.9 206.8,693.4 211.6,685.8 216.6,700 221.9,683.6 227.3,688.6 232.4,685.8 237.8,679.9 243.3,674.8 246.6,671.1 248.1,655 262.6,655 264.1,671.1 265.8,691.3 268.5,726.3 273.9,745.3 279.4,740.9 284.4,737.2 289.7,737.6 294.7,773.3 299.7,789.3 305,778.3 310.5,782 315.7,789.7 321,750.8 326,744.9 331.5,739.4 336.7,730.6 341.7,727.3 347.2,728.4 352.7,749.2 358.2,760.8 363.2,761.3 368.7,775.5 370,776.1 373.9,777.7 379.2,759.1 384.4,771.8 389.7,747 394.7,756.9 400,766.7 405,773.7 410.3,777 415.5,783.1 420.8,787.5 425.8,803.9 431.3,801.1 436.5,803.5 441.8,787.5 446.6,784.2 451.8,771.5 457.1,773.7 462.3,765.6 467.6,771.1 472.8,783.1 477.9,773.9 483.1,790.1 488.4,780.9 493.6,770 498.6,789.3 503.9,762.4 509.1,754.3 514.4,740.9 519.6,738.3 524.9,728.9 530.1,724.5 535.4,732.8 540.6,720.8 545.7,723.6 550.9,732.8 556,742.7 561.2,724.1 566.5,719 571.7,722.3 577,716.4 582.2,711.6 587.5,708.8 593.1,704.8 598.4,737.9 603.6,735.4 608.9,733.9 614.1,737.2 619.4,731.3 624.6,751 629.9,755.1 635.1,767.4 640.4,759.5 645.7,776.6 650.9,784.9 656.2,779.4 661.4,791.4 666.7,758.6 671.9,758.6 677.2,743.8 682.4,743.3 687.7,737.2 692.7,733.9 697.7,715.3 703,710.5 708.2,696.1 710,692.3 713.1,686.9 718.3,690.2 723.1,703.9 728.4,694.5 733.6,715.3 738.9,702.2 744.1,690.8 749.4,685.1 754.6,685.8 759.9,689.5 765.1,683.6 770.2,679.9 775.4,704.4 780.4,698.3 785.7,712.7 791.4,733.3 797.1,728 802.3,732.8 807.6,739.4 812.8,752.9 817.6,780.9 823.1,776.1 828.4,779.2 833.6,761.9 838.9,766.1 844.1,755.8 849.4,730.6 854.4,741.6 859.6,740.5 864.9,763 870.1,746.4 875.4,731.7 880.6,733.9 885.7,737.2 890.9,753.6 896,739.4 901.4,723.6 906.5,748.1 911.7,746.4 917,750.8 922.2,752.5 927.5,742.7 932.7,736.8 938,758 943.2,754.7 948.5,766.1 953.7,747.7 959,736.8 964.2,749.2 969.5,751.4 974.7,736.8 980,736.1 985.2,726.3 990.5,720.8 995.7,717.5 1001,716.4 1006.2,720.8 1011.9,721.4 1017.2,749.2 1022.4,767.4 1027.7,772.6 1032.9,769.6 1037.7,747 1043,757.3 1048.2,780.5 1050,778.8 1053.3,776.6 1058.3,759.1 1063.6,772.2 1068.6,781.4 1073.6,771.8 1078.9,786.4 1084.1,795.6 1089.4,794.5 1094.6,801.7 1099.9,810.7 1105.1,773.3 1110.4,761.3 1115.6,759.5 1120.9,773.3 1126.1,776.6 1131.4,778.1 1136.6,777.7 1141.9,782.7 1147.1,779.4 1152.4,787.5 1157.6,792.3 1162.7,802.4 1167.7,767.8 1172.5,735 1177.8,724.1 1183,718.6 1188.3,713.6 1193.5,720.1 1198.8,717.5 1204,744.2 1209.3,752.5 1214.5,763.4 1220.6,781.6 1225.9,782.5 1231.1,775 1236.4,788.2 1241.6,782.5 1246.9,780.3 1252.1,784.2 1257,756.9 1262.2,735 1267.5,721.4 1272.7,734.4 1278,731.1 1283.2,750.8 1288.5,763.9 1293.7,759.5 1299,752.1 1304.2,747.7 1309.5,738.3 1314.7,727.3 1320,722.3 1325,709.2 1325,685.8 32.5,685.8" fill="#4CAF50" fill-opacity="0.09" clip-path="url(#c70)"/>
<line x1="34.5" y1="685.8" x2="1457" y2="685.8" stroke="#9A9DA8" stroke-width="1.15" stroke-dasharray="8,6.2"/>
<line x1="34.5" y1="745.9" x2="1457" y2="745.9" stroke="#BDBDBD" stroke-width="0.9" stroke-dasharray="8,6.2"/>
<line x1="34.5" y1="805" x2="1457" y2="805" stroke="#9A9DA8" stroke-width="1.15" stroke-dasharray="8,6.2"/>
<line x1="927.8" y1="671" x2="927.8" y2="818" stroke="#F5A030" stroke-width="1.6" stroke-dasharray="5,4"/>
<polyline points="32.5,655 47.2,655 49.7,671.1 54.5,674.2 58.4,671.1 59.9,655 74.4,655 75.9,671.1 80.8,678.6 85.8,671.1 87.3,655 95.2,655 96.7,671.1 101.1,685.8 106.6,675.5 112,671.1 113.5,655 123,655 124.5,671.1 127.4,679.2 132.8,679.9 138.7,674.2 143.8,695.6 149.2,732.8 154.3,760.8 159.5,757.3 164.5,733.9 170,736.1 175.5,735 180.5,726.7 185.3,694.5 190.8,686.9 196.3,695.6 201.3,698.9 206.8,693.4 211.6,685.8 216.6,700 221.9,683.6 227.3,688.6 232.4,685.8 237.8,679.9 243.3,674.8 246.6,671.1 248.1,655 262.6,655 264.1,671.1 265.8,691.3 268.5,726.3 273.9,745.3 279.4,740.9 284.4,737.2 289.7,737.6 294.7,773.3 299.7,789.3 305,778.3 310.5,782 315.7,789.7 321,750.8 326,744.9 331.5,739.4 336.7,730.6 341.7,727.3 347.2,728.4 352.7,749.2 358.2,760.8 363.2,761.3 368.7,775.5 370,776.1 373.9,777.7 379.2,759.1 384.4,771.8 389.7,747 394.7,756.9 400,766.7 405,773.7 410.3,777 415.5,783.1 420.8,787.5 425.8,803.9 431.3,801.1 436.5,803.5 441.8,787.5 446.6,784.2 451.8,771.5 457.1,773.7 462.3,765.6 467.6,771.1 472.8,783.1 477.9,773.9 483.1,790.1 488.4,780.9 493.6,770 498.6,789.3 503.9,762.4 509.1,754.3 514.4,740.9 519.6,738.3 524.9,728.9 530.1,724.5 535.4,732.8 540.6,720.8 545.7,723.6 550.9,732.8 556,742.7 561.2,724.1 566.5,719 571.7,722.3 577,716.4 582.2,711.6 587.5,708.8 593.1,704.8 598.4,737.9 603.6,735.4 608.9,733.9 614.1,737.2 619.4,731.3 624.6,751 629.9,755.1 635.1,767.4 640.4,759.5 645.7,776.6 650.9,784.9 656.2,779.4 661.4,791.4 666.7,758.6 671.9,758.6 677.2,743.8 682.4,743.3 687.7,737.2 692.7,733.9 697.7,715.3 703,710.5 708.2,696.1 710,692.3 713.1,686.9 718.3,690.2 723.1,703.9 728.4,694.5 733.6,715.3 738.9,702.2 744.1,690.8 749.4,685.1 754.6,685.8 759.9,689.5 765.1,683.6 770.2,679.9 775.4,704.4 780.4,698.3 785.7,712.7 791.4,733.3 797.1,728 802.3,732.8 807.6,739.4 812.8,752.9 817.6,780.9 823.1,776.1 828.4,779.2 833.6,761.9 838.9,766.1 844.1,755.8 849.4,730.6 854.4,741.6 859.6,740.5 864.9,763 870.1,746.4 875.4,731.7 880.6,733.9 885.7,737.2 890.9,753.6 896,739.4 901.4,723.6 906.5,748.1 911.7,746.4 917,750.8 922.2,752.5 927.5,742.7 932.7,736.8 938,758 943.2,754.7 948.5,766.1 953.7,747.7 959,736.8 964.2,749.2 969.5,751.4 974.7,736.8 980,736.1 985.2,726.3 990.5,720.8 995.7,717.5 1001,716.4 1006.2,720.8 1011.9,721.4 1017.2,749.2 1022.4,767.4 1027.7,772.6 1032.9,769.6 1037.7,747 1043,757.3 1048.2,780.5 1050,778.8 1053.3,776.6 1058.3,759.1 1063.6,772.2 1068.6,781.4 1073.6,771.8 1078.9,786.4 1084.1,795.6 1089.4,794.5 1094.6,801.7 1099.9,810.7 1105.1,773.3 1110.4,761.3 1115.6,759.5 1120.9,773.3 1126.1,776.6 1131.4,778.1 1136.6,777.7 1141.9,782.7 1147.1,779.4 1152.4,787.5 1157.6,792.3 1162.7,802.4 1167.7,767.8 1172.5,735 1177.8,724.1 1183,718.6 1188.3,713.6 1193.5,720.1 1198.8,717.5 1204,744.2 1209.3,752.5 1214.5,763.4 1220.6,781.6 1225.9,782.5 1231.1,775 1236.4,788.2 1241.6,782.5 1246.9,780.3 1252.1,784.2 1257,756.9 1262.2,735 1267.5,721.4 1272.7,734.4 1278,731.1 1283.2,750.8 1288.5,763.9 1293.7,759.5 1299,752.1 1304.2,747.7 1309.5,738.3 1314.7,727.3 1320,722.3 1325,709.2" fill="none" stroke="#7B1421" stroke-width="1.9" stroke-linejoin="round"/>
</g>
<line x1="927.8" y1="815" x2="927.8" y2="815" stroke="#F5A030" stroke-width="1.6" stroke-dasharray="5,4"/>
<rect x="1461.8" y="46" width="90.7" height="21" rx="4" fill="#FFFEFD" stroke="#EDEDED" stroke-width="1"/>
<text x="1473.8" y="60.2" font-size="11" textLength="25.6" lengthAdjust="spacingAndGlyphs" fill="#131722" >SAR</text>
<text x="1469" y="79" font-size="11" textLength="76.4" lengthAdjust="spacingAndGlyphs" fill="#131722" stroke="#131722" stroke-width="0.22">14,200.000</text>
<text x="1469" y="105.6" font-size="11" textLength="76.4" lengthAdjust="spacingAndGlyphs" fill="#131722" stroke="#131722" stroke-width="0.22">14,000.000</text>
<text x="1469" y="132.1" font-size="11" textLength="76.4" lengthAdjust="spacingAndGlyphs" fill="#131722" stroke="#131722" stroke-width="0.22">13,800.000</text>
<text x="1469" y="158.6" font-size="11" textLength="76.4" lengthAdjust="spacingAndGlyphs" fill="#131722" stroke="#131722" stroke-width="0.22">13,600.000</text>
<text x="1469" y="185.1" font-size="11" textLength="76.4" lengthAdjust="spacingAndGlyphs" fill="#131722" stroke="#131722" stroke-width="0.22">13,400.000</text>
<text x="1469" y="211.6" font-size="11" textLength="76.4" lengthAdjust="spacingAndGlyphs" fill="#131722" stroke="#131722" stroke-width="0.22">13,200.000</text>
<text x="1469" y="238.2" font-size="11" textLength="76.4" lengthAdjust="spacingAndGlyphs" fill="#131722" stroke="#131722" stroke-width="0.22">13,000.000</text>
<text x="1469" y="264.7" font-size="11" textLength="76.4" lengthAdjust="spacingAndGlyphs" fill="#131722" stroke="#131722" stroke-width="0.22">12,800.000</text>
<text x="1469" y="291.2" font-size="11" textLength="76.4" lengthAdjust="spacingAndGlyphs" fill="#131722" stroke="#131722" stroke-width="0.22">12,600.000</text>
<text x="1469" y="317.7" font-size="11" textLength="76.4" lengthAdjust="spacingAndGlyphs" fill="#131722" stroke="#131722" stroke-width="0.22">12,400.000</text>
<text x="1469" y="344.2" font-size="11" textLength="76.4" lengthAdjust="spacingAndGlyphs" fill="#131722" stroke="#131722" stroke-width="0.22">12,200.000</text>
<text x="1469" y="370.8" font-size="11" textLength="76.4" lengthAdjust="spacingAndGlyphs" fill="#131722" stroke="#131722" stroke-width="0.22">12,000.000</text>
<text x="1469" y="397.3" font-size="11" textLength="76.4" lengthAdjust="spacingAndGlyphs" fill="#131722" stroke="#131722" stroke-width="0.22">11,800.000</text>
<text x="1469" y="423.8" font-size="11" textLength="76.4" lengthAdjust="spacingAndGlyphs" fill="#131722" stroke="#131722" stroke-width="0.22">11,600.000</text>
<text x="1469" y="450.3" font-size="11" textLength="76.4" lengthAdjust="spacingAndGlyphs" fill="#131722" stroke="#131722" stroke-width="0.22">11,400.000</text>
<text x="1469" y="476.8" font-size="11" textLength="76.4" lengthAdjust="spacingAndGlyphs" fill="#131722" stroke="#131722" stroke-width="0.22">11,200.000</text>
<text x="1469" y="503.4" font-size="11" textLength="76.4" lengthAdjust="spacingAndGlyphs" fill="#131722" stroke="#131722" stroke-width="0.22">11,000.000</text>
<text x="1469" y="529.9" font-size="11" textLength="76.4" lengthAdjust="spacingAndGlyphs" fill="#131722" stroke="#131722" stroke-width="0.22">10,800.000</text>
<text x="1469" y="556.4" font-size="11" textLength="76.4" lengthAdjust="spacingAndGlyphs" fill="#131722" stroke="#131722" stroke-width="0.22">10,600.000</text>
<text x="1469" y="582.9" font-size="11" textLength="76.4" lengthAdjust="spacingAndGlyphs" fill="#131722" stroke="#131722" stroke-width="0.22">10,400.000</text>
<text x="1469" y="609.5" font-size="11" textLength="76.4" lengthAdjust="spacingAndGlyphs" fill="#131722" stroke="#131722" stroke-width="0.22">10,200.000</text>
<text x="1469" y="636" font-size="11" textLength="76.4" lengthAdjust="spacingAndGlyphs" fill="#131722" stroke="#131722" stroke-width="0.22">10,000.000</text>
<text x="1469" y="662.5" font-size="11" textLength="69" lengthAdjust="spacingAndGlyphs" fill="#131722" stroke="#131722" stroke-width="0.22">9,800.000</text>
<text x="1469.4" y="690" font-size="11" textLength="37.5" lengthAdjust="spacingAndGlyphs" fill="#131722" stroke="#131722" stroke-width="0.22">70.00</text>
<text x="1469.4" y="719.6" font-size="11" textLength="37.5" lengthAdjust="spacingAndGlyphs" fill="#131722" stroke="#131722" stroke-width="0.22">60.00</text>
<text x="1469.4" y="749.2" font-size="11" textLength="37.5" lengthAdjust="spacingAndGlyphs" fill="#131722" stroke="#131722" stroke-width="0.22">50.00</text>
<text x="1469.4" y="779.1" font-size="11" textLength="37.5" lengthAdjust="spacingAndGlyphs" fill="#131722" stroke="#131722" stroke-width="0.22">40.00</text>
<text x="1469.4" y="808.7" font-size="11" textLength="37.5" lengthAdjust="spacingAndGlyphs" fill="#131722" stroke="#131722" stroke-width="0.22">30.00</text>
<rect x="1458" y="416.8" width="94.9" height="25.8" rx="2" fill="#673AB7"/>
<text x="1469.6" y="426.5" font-size="9.6" font-weight="bold" textLength="76" lengthAdjust="spacingAndGlyphs" fill="#fff" >11,582.450</text>
<text x="1469.6" y="438.3" font-size="9.8" textLength="37" lengthAdjust="spacingAndGlyphs" fill="#DDD2F3" >1d 2h</text>
<rect x="1458.4" y="592.1" width="94.5" height="14.2" rx="1.5" fill="#F23645"/>
<text x="1469" y="603" font-size="10.5" font-weight="bold" textLength="76" lengthAdjust="spacingAndGlyphs" fill="#fff" >10,262.380</text>
<rect x="1458.4" y="635.6" width="87.3" height="14.2" rx="1.5" fill="#F23645"/>
<text x="1469" y="646.5" font-size="10.5" font-weight="bold" textLength="69" lengthAdjust="spacingAndGlyphs" fill="#fff" >9,932.880</text>
<rect x="1458.4" y="702.7" width="55.8" height="13.8" rx="1.5" fill="#7B1421"/>
<text x="1469.4" y="713.4" font-size="10.5" font-weight="bold" textLength="37.5" lengthAdjust="spacingAndGlyphs" fill="#fff" >62.07</text>
<text x="49.5" y="834" font-size="10.5" text-anchor="middle" textLength="31" lengthAdjust="spacingAndGlyphs" fill="#131722" direction="rtl" unicode-bidi="embed">يوليو</text>
<text x="180.5" y="834" font-size="10.5" font-weight="bold" text-anchor="middle" textLength="36" lengthAdjust="spacingAndGlyphs" fill="#131722" >2022</text>
<text x="310.5" y="834" font-size="10.5" text-anchor="middle" textLength="31" lengthAdjust="spacingAndGlyphs" fill="#131722" direction="rtl" unicode-bidi="embed">يوليو</text>
<text x="446.5" y="834" font-size="10.5" font-weight="bold" text-anchor="middle" textLength="36" lengthAdjust="spacingAndGlyphs" fill="#131722" >2023</text>
<text x="577.2" y="834" font-size="10.5" text-anchor="middle" textLength="31.5" lengthAdjust="spacingAndGlyphs" fill="#131722" direction="rtl" unicode-bidi="embed">يوليو</text>
<text x="718.5" y="834" font-size="10.5" font-weight="bold" text-anchor="middle" textLength="36" lengthAdjust="spacingAndGlyphs" fill="#131722" >2024</text>
<text x="844" y="834" font-size="10.5" text-anchor="middle" textLength="30" lengthAdjust="spacingAndGlyphs" fill="#131722" direction="rtl" unicode-bidi="embed">يوليو</text>
<text x="1115" y="834" font-size="10.5" text-anchor="middle" textLength="30" lengthAdjust="spacingAndGlyphs" fill="#131722" direction="rtl" unicode-bidi="embed">يوليو</text>
<text x="1251" y="834" font-size="10.5" font-weight="bold" text-anchor="middle" textLength="36" lengthAdjust="spacingAndGlyphs" fill="#131722" >2026</text>
<text x="1386.5" y="834" font-size="10.5" text-anchor="middle" textLength="31" lengthAdjust="spacingAndGlyphs" fill="#131722" direction="rtl" unicode-bidi="embed">يوليو</text>
<rect x="859" y="817.8" width="137.8" height="20" rx="1.5" fill="#FF9800"/>
<text x="927.3" y="833.3" font-size="12" text-anchor="middle" textLength="114" lengthAdjust="spacingAndGlyphs" fill="#131722" direction="rtl" unicode-bidi="embed">الأحد 27 أكتوبر '24</text>
<text x="32.4" y="36.3" font-size="11" textLength="107.2" lengthAdjust="spacingAndGlyphs" fill="#131722" stroke="#131722" stroke-width="0.5">Ayman_Alnagar</text>
<text x="143.8" y="36.3" font-size="10.5" textLength="97.6" lengthAdjust="spacingAndGlyphs" fill="#131722" stroke="#131722" stroke-width="0.2">تم إنشاؤها باستخدام</text>
<text x="245.5" y="36.3" font-size="11" textLength="117" lengthAdjust="spacingAndGlyphs" fill="#131722" stroke="#131722" stroke-width="0.5">TradingView.com،</text>
<text x="373.4" y="36.3" font-size="11" textLength="101" lengthAdjust="spacingAndGlyphs" fill="#131722" stroke="#131722" stroke-width="0.5">14:22 2026 ,15</text>
<text x="478.5" y="36.3" font-size="10.5" textLength="27.5" lengthAdjust="spacingAndGlyphs" fill="#131722" stroke="#131722" stroke-width="0.2">أبريل</text>
<text x="511" y="36.3" font-size="11" textLength="43.1" lengthAdjust="spacingAndGlyphs" fill="#131722" stroke="#131722" stroke-width="0.5">UTC+4</text>
<text x="42.5" y="58.8" font-size="10.5" textLength="21.5" lengthAdjust="spacingAndGlyphs" fill="#131722" stroke="#131722" stroke-width="0.25">مؤشر</text>
<text x="77.2" y="58.8" font-size="10.5" textLength="127.6" lengthAdjust="spacingAndGlyphs" fill="#131722" stroke="#131722" stroke-width="0.25">Tadawul All Shares</text>
<text x="212.5" y="58.8" font-size="10.5" text-anchor="middle" fill="#131722" stroke="#131722" stroke-width="0.25">·</text>
<text x="222" y="58.8" font-size="10.5" textLength="37.3" lengthAdjust="spacingAndGlyphs" fill="#131722" stroke="#131722" stroke-width="0.25">1أسبوع</text>
<text x="267.5" y="58.8" font-size="10.5" text-anchor="middle" fill="#131722" stroke="#131722" stroke-width="0.25">·</text>
<text x="275.8" y="58.8" font-size="10.5" textLength="63.2" lengthAdjust="spacingAndGlyphs" fill="#131722" stroke="#131722" stroke-width="0.25">TADAWUL</text>
<text x="350" y="58.8" font-size="10.5" textLength="9.5" lengthAdjust="spacingAndGlyphs" fill="#131722" stroke="#131722" stroke-width="0.25">O</text>
<text x="361" y="58.8" font-size="10.5" textLength="75.7" lengthAdjust="spacingAndGlyphs" fill="#089981" stroke="#089981" stroke-width="0.25">11,299.580</text>
<text x="446.9" y="58.8" font-size="10.5" textLength="9" lengthAdjust="spacingAndGlyphs" fill="#131722" stroke="#131722" stroke-width="0.25">H</text>
<text x="457.9" y="58.8" font-size="10.5" textLength="75.6" lengthAdjust="spacingAndGlyphs" fill="#089981" stroke="#089981" stroke-width="0.25">11,592.300</text>
<text x="543.1" y="58.8" font-size="10.5" textLength="7" lengthAdjust="spacingAndGlyphs" fill="#131722" stroke="#131722" stroke-width="0.25">L</text>
<text x="551.4" y="58.8" font-size="10.5" textLength="75.6" lengthAdjust="spacingAndGlyphs" fill="#089981" stroke="#089981" stroke-width="0.25">11,269.410</text>
<text x="637.5" y="58.8" font-size="10.5" textLength="8.8" lengthAdjust="spacingAndGlyphs" fill="#131722" stroke="#131722" stroke-width="0.25">C</text>
<text x="647.6" y="58.8" font-size="10.5" textLength="75.1" lengthAdjust="spacingAndGlyphs" fill="#089981" stroke="#089981" stroke-width="0.25">11,582.450</text>
<text x="732.9" y="58.8" font-size="10.5" textLength="125.7" lengthAdjust="spacingAndGlyphs" fill="#089981" stroke="#089981" stroke-width="0.25">+239.280 (+2.11%)</text>
<path d="M35.1,860.1H51.6V872.3H43V865.1H35.1Z" fill="#111"/>
<circle cx="56.9" cy="862.3" r="2.2" fill="#111"/>
<path d="M63.5,860.1H73.2L66.7,872.3H57.3Z" fill="#111"/>
<text x="83.2" y="872.3" font-size="17" font-weight="bold" textLength="156.3" lengthAdjust="spacingAndGlyphs" fill="#111" stroke="#111" stroke-width="0.35">TradingView</text>
<text x="1355.5" y="878.8" font-size="26.6" textLength="175" lengthAdjust="spacingAndGlyphs" fill="#000" font-family='"DejaVu Serif", "Liberation Serif", serif' stroke="#000" stroke-width="0.55">@Fxrest.com</text>
</svg>
</body></html>
